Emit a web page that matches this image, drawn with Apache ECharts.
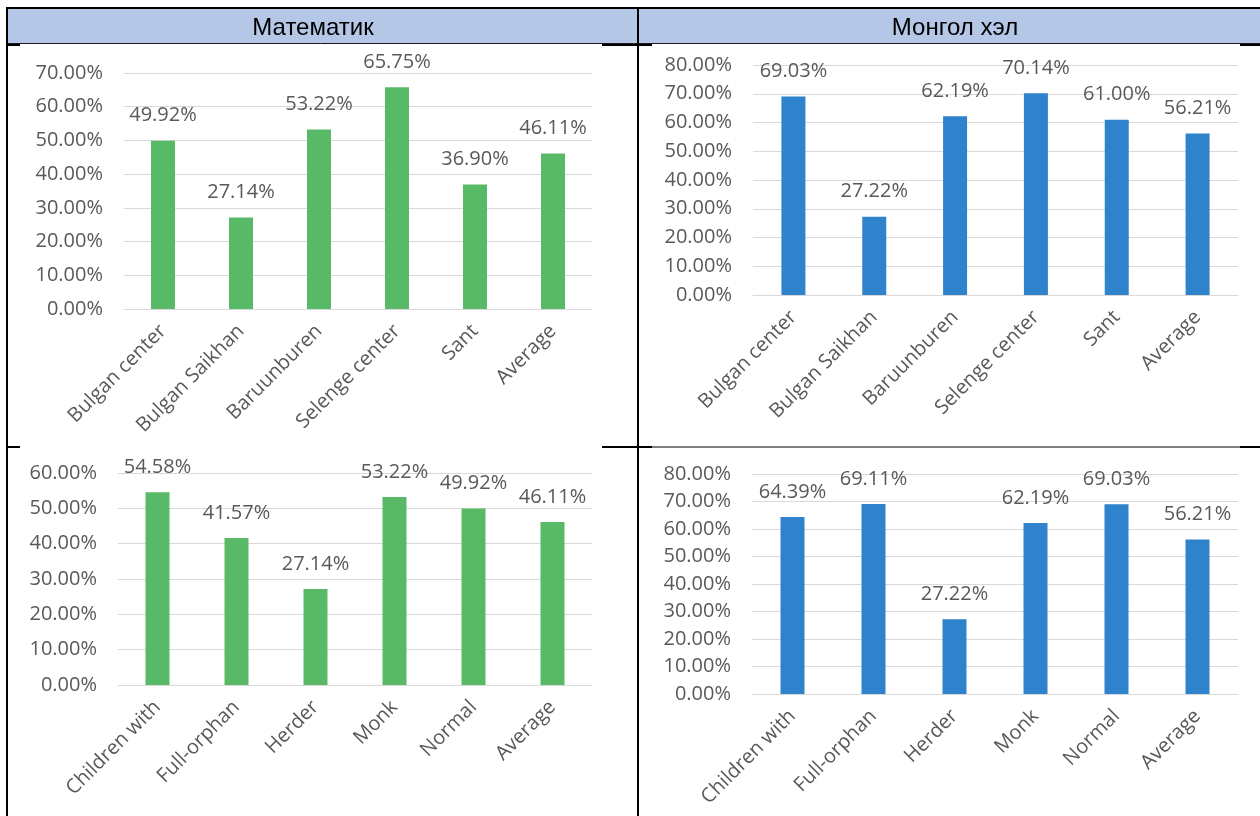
<!DOCTYPE html>
<html>
<head>
<meta charset="utf-8">
<script src="https://cdn.jsdelivr.net/npm/echarts@6/dist/echarts.min.js"></script>
<style>
html,body{margin:0;padding:0;background:#fff;}
#c{width:1260px;height:816px;}
</style>
</head>
<body>
<div id="c"></div>
<script>
// ---- data ----
const headerTitles = ['Математик', 'Монгол хэл'];
const schoolCats = ['Bulgan center', 'Bulgan Saikhan', 'Baruunburen', 'Selenge center', 'Sant', 'Average'];
const groupCats = ['Children with', 'Full-orphan', 'Herder', 'Monk', 'Normal', 'Average'];
const mathSchools = [49.92, 27.14, 53.22, 65.75, 36.90, 46.11];
const mongolSchools = [69.03, 27.22, 62.19, 70.14, 61.00, 56.21];
const mathGroups = [54.58, 41.57, 27.14, 53.22, 49.92, 46.11];
const mongolGroups = [64.39, 69.11, 27.22, 62.19, 69.03, 56.21];
const yMax = [70, 80, 60, 80];

// ---- styles ----
const GREEN = '#58b966';
const BLUE = '#2e83cc';
const TXT = '#595959';
const FONT = 'Open Sans';
const FS = 20;

const grids = [
  {left: 124, right: 668, top: 73, bottom: 507},
  {left: 753, right: 22, top: 65, bottom: 521},
  {left: 118, right: 668, top: 473, bottom: 131},
  {left: 752, right: 22, top: 474, bottom: 122}
];
const cats = [schoolCats, schoolCats, groupCats, groupCats];
const vals = [mathSchools, mongolSchools, mathGroups, mongolGroups];
const colors = [GREEN, BLUE, GREEN, BLUE];

const pct = v => Number(v).toFixed(2) + '%';

const option = {
  animation: false,
  backgroundColor: '#fff',
  textStyle: {fontFamily: FONT},
  title: [
    {text: headerTitles[0], left: 308, top: 11, textAlign: 'center',
     textStyle: {fontFamily: 'Liberation Sans', fontSize: 24, fontWeight: 'normal', color: '#000'}},
    {text: headerTitles[1], left: 950, top: 11, textAlign: 'center',
     textStyle: {fontFamily: 'Liberation Sans', fontSize: 24, fontWeight: 'normal', color: '#000'}}
  ],
  grid: grids.map(g => Object.assign({outerBoundsMode: 'none', containLabel: false}, g)),
  xAxis: grids.map((g, i) => ({
    type: 'category', gridIndex: i, data: cats[i],
    axisTick: {show: false},
    axisLine: {lineStyle: {color: '#d9d9d9', width: 1}},
    axisLabel: {rotate: 45, interval: 0, margin: 19, color: TXT, fontSize: FS, fontFamily: FONT}
  })),
  yAxis: grids.map((g, i) => ({
    type: 'value', gridIndex: i, min: 0, max: yMax[i], interval: 10,
    axisLine: {show: false}, axisTick: {show: false},
    splitLine: {lineStyle: {color: '#d9d9d9', width: 1}},
    axisLabel: {formatter: pct, color: TXT, fontSize: FS, fontFamily: FONT, margin: 21}
  })),
  series: grids.map((g, i) => ({
    type: 'bar', xAxisIndex: i, yAxisIndex: i, data: vals[i],
    barWidth: 24,
    itemStyle: {color: colors[i]},
    label: {show: true, position: 'top', distance: 15, formatter: p => pct(p.value),
            color: TXT, fontSize: FS, fontFamily: FONT}
  })),
  graphic: [
    {type: 'rect', shape: {x: 8, y: 9, width: 1252, height: 34}, style: {fill: '#b4c7e7'}, z: -1},
    {type: 'line', shape: {x1: 6, y1: 8, x2: 1260, y2: 8}, style: {stroke: '#000', lineWidth: 2}},
    {type: 'line', shape: {x1: 7, y1: 43.5, x2: 1260, y2: 43.5}, style: {stroke: '#1a1a1a', lineWidth: 1}},
    {type: 'line', shape: {x1: 7, y1: 45, x2: 20, y2: 45}, style: {stroke: '#000', lineWidth: 2}},
    {type: 'line', shape: {x1: 602, y1: 45, x2: 652, y2: 45}, style: {stroke: '#000', lineWidth: 2}},
    {type: 'line', shape: {x1: 1240, y1: 45, x2: 1260, y2: 45}, style: {stroke: '#000', lineWidth: 2}},
    {type: 'line', shape: {x1: 7, y1: 8, x2: 7, y2: 816}, style: {stroke: '#000', lineWidth: 2}},
    {type: 'line', shape: {x1: 638, y1: 8, x2: 638, y2: 816}, style: {stroke: '#000', lineWidth: 2}},
    {type: 'line', shape: {x1: 7, y1: 447, x2: 20, y2: 447}, style: {stroke: '#000', lineWidth: 2}},
    {type: 'line', shape: {x1: 602, y1: 447, x2: 652, y2: 447}, style: {stroke: '#000', lineWidth: 2}},
    {type: 'line', shape: {x1: 652, y1: 447, x2: 1240, y2: 447}, style: {stroke: '#000', lineWidth: 1}},
    {type: 'line', shape: {x1: 1240, y1: 447, x2: 1260, y2: 447}, style: {stroke: '#000', lineWidth: 2}}
  ]
};

const chart = echarts.init(document.getElementById('c'), null, {renderer: 'canvas'});
chart.setOption(option);
</script>
</body>
</html>
